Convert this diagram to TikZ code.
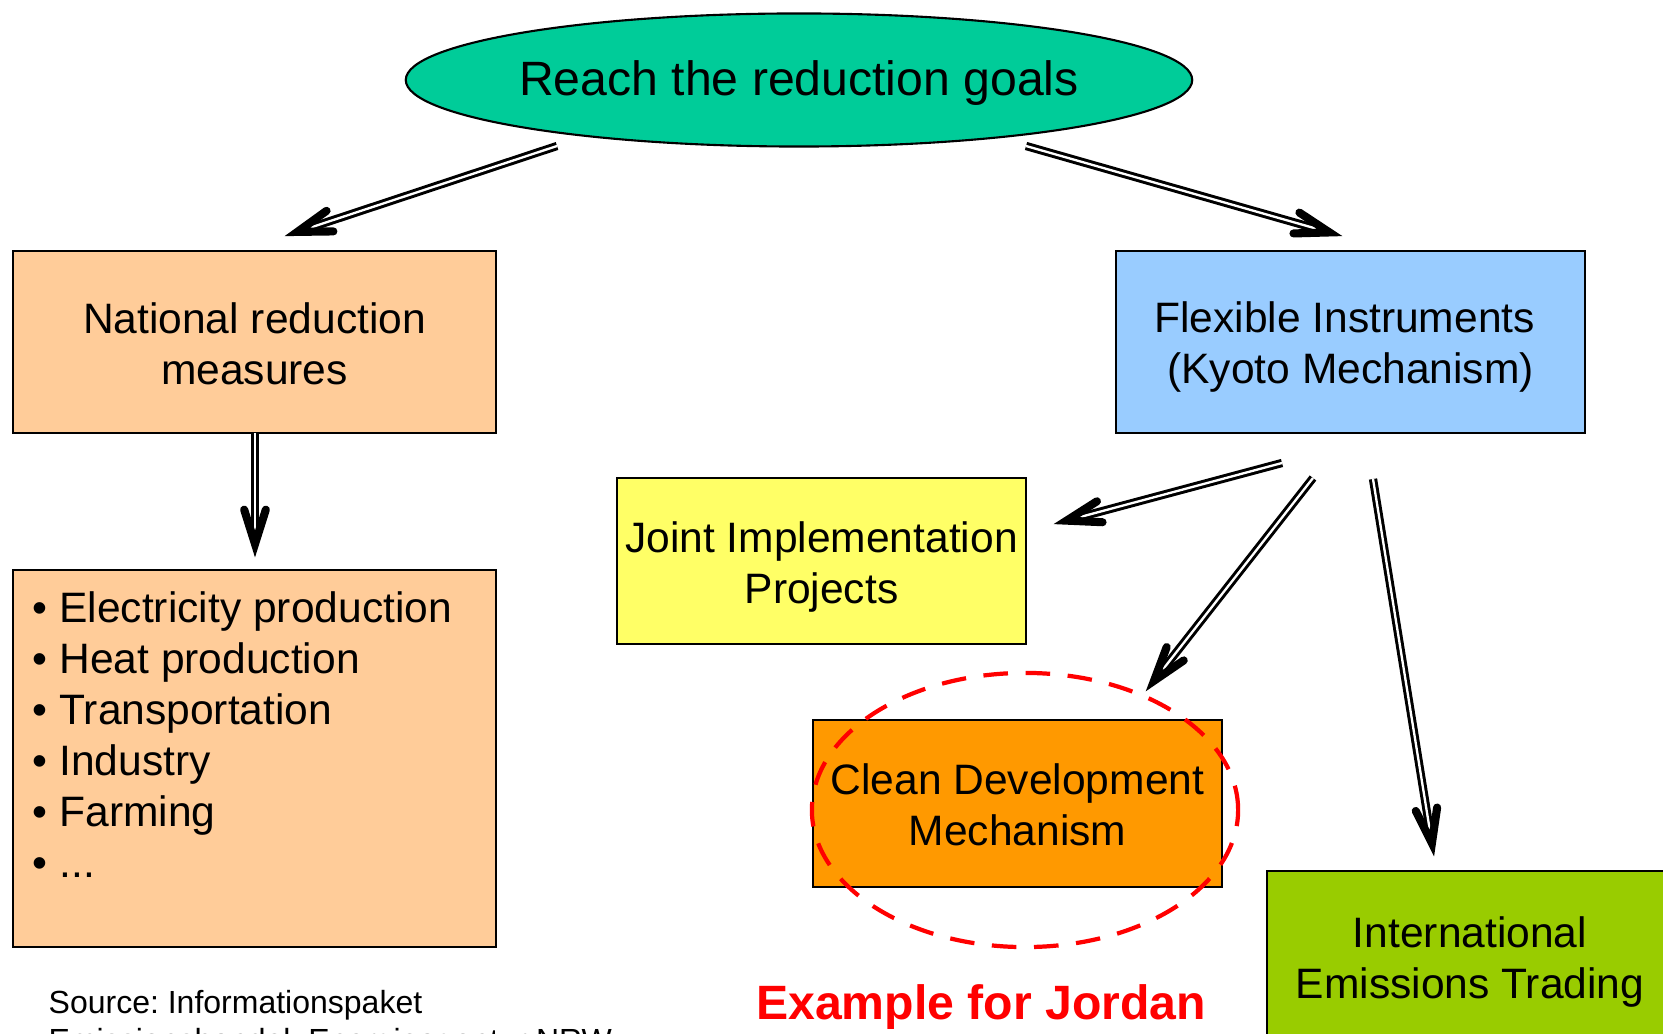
\documentclass[tikz,border=0pt]{standalone}
\usepackage{fontspec}
\setmainfont{Liberation Sans}
\usetikzlibrary{calc,shapes.geometric}
\definecolor{goalc}{RGB}{0,204,153}
\definecolor{peach}{RGB}{255,204,153}
\definecolor{flexc}{RGB}{153,204,255}
\definecolor{jic}{RGB}{255,255,102}
\definecolor{cdmc}{RGB}{255,153,0}
\definecolor{ietc}{RGB}{153,204,0}
\definecolor{redc}{RGB}{255,0,0}
\newcommand{\dblarr}[2]{%
  \draw[dbl] (#1) -- (#2);
  \coordinate (tmptip) at ($(#2)!0.13cm!(#1)$);
  \draw[head] ($(tmptip)!0.36cm!17.5:(#1)$) -- (tmptip) -- ($(tmptip)!0.36cm!-17.5:(#1)$);}
\frenchspacing
\begin{document}
\begin{tikzpicture}[x=0.01cm,y=-0.01cm,
  box/.style={draw=black, line width=0.6pt, inner sep=0pt},
  txt/.style={align=center, inner sep=0pt, font=\fontsize{12.1}{14.5}\selectfont},
  dbl/.style={draw=black, double=white, line width=0.85pt, double distance=0.66pt, shorten >=6pt},
  head/.style={draw=black, line width=2.3pt, line cap=round, line join=miter}]
\useasboundingbox (0,0) rectangle (1663,1034);
% shapes
\node[ellipse, draw=black, line width=0.6pt, fill=goalc, inner sep=0pt,
  minimum width=7.86cm, minimum height=1.33cm] (goal) at (799,80) {};
\node[inner sep=0pt, font=\fontsize{13.7}{16}\selectfont] (goalT) at (799,83) {Reach the reduction goals};
\node[box, fill=peach, minimum width=4.83cm, minimum height=1.82cm] (nat) at (254.5,342) {};
\node[txt] (natT) at (254.5,344) {National reduction\\measures};
\node[box, fill=flexc, minimum width=4.69cm, minimum height=1.82cm] (flex) at (1350.5,342) {};
\node[txt] (flexT) at (1350.5,347) {Flexible Instruments\kern0.28em\\(Kyoto Mechanism)};
\node[box, fill=jic, minimum width=4.09cm, minimum height=1.66cm] (ji) at (821.5,561) {};
\node[txt] (jiT) at (821.5,567) {Joint Implementation\\Projects};
\node[box, fill=peach, minimum width=4.83cm, minimum height=3.77cm] (list) at (254.5,758.5) {};
\node[anchor=north west, align=left, inner sep=0pt,
  font=\fontsize{12.1}{14.5}\selectfont] (listT) at (32,591)
  {• Electricity production\\• Heat production\\• Transportation\\• Industry\\• Farming\\• ...};
\node[box, fill=cdmc, minimum width=4.09cm, minimum height=1.67cm] (cdm) at (1017.5,803.5) {};
\node[txt] (cdmT) at (1017.5,805) {Clean Development\\Mechanism};
\node[box, fill=ietc, minimum width=4.06cm, minimum height=1.70cm] (iet) at (1470,956) {};
\node[txt] (ietT) at (1470,962) {International\\Emissions Trading};
\node[ellipse, draw=redc, line width=1.2pt, dash pattern=on 7pt off 5pt,
  minimum width=4.26cm, minimum height=2.74cm, inner sep=0pt] (hl) at (1025,810) {};
\node[anchor=base, text=redc, font=\fontsize{13.7}{16}\selectfont\bfseries] (ex) at (981,1020)
  {Example for Jordan};
\node[anchor=base west, inner sep=0pt, font=\fontsize{9.1}{10.5}\selectfont] (src1) at (48,1014)
  {Source: Informationspaket};
\node[anchor=base west, inner sep=0pt, font=\fontsize{9.1}{10.5}\selectfont] (src2) at (48,1051)
  {Emissionshandel, Energieagentur NRW};
% arrow end points
\coordinate (a1s) at (557,146); \coordinate (a1e) at (285,236);
\coordinate (a2s) at (1026,146); \coordinate (a2e) at (1342,236);
\coordinate (a3s) at (255,433); \coordinate (a3e) at (255,557);
\coordinate (a4s) at (1282,463); \coordinate (a4e) at (1054,524);
\coordinate (a5s) at (1313,478); \coordinate (a5e) at (1146,691);
\coordinate (a6s) at (1373,479); \coordinate (a6e) at (1434,856);
\dblarr{a1s}{a1e}
\dblarr{a2s}{a2e}
\dblarr{a3s}{a3e}
\dblarr{a4s}{a4e}
\dblarr{a5s}{a5e}
\dblarr{a6s}{a6e}
\end{tikzpicture}
\end{document}
